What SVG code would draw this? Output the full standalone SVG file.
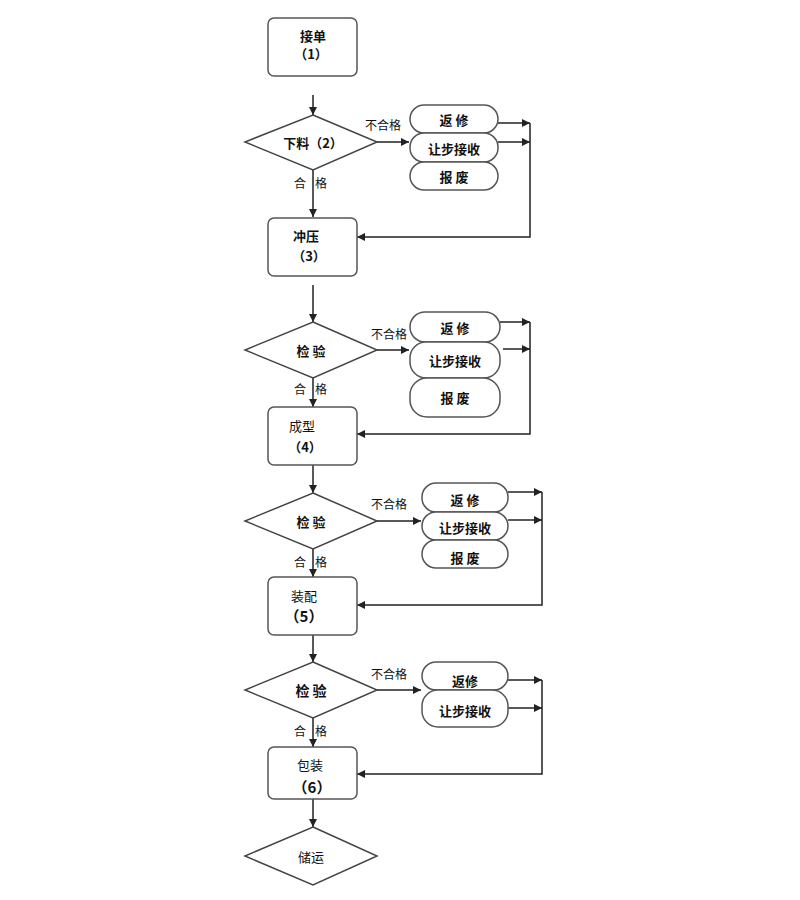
<svg xmlns="http://www.w3.org/2000/svg" width="800" height="900" viewBox="0 0 800 900">
<defs>
<marker id="ah" viewBox="0 0 10 10" refX="10" refY="5" markerWidth="8" markerHeight="8" markerUnits="userSpaceOnUse" orient="auto"><path d="M0,0 L10,5 L0,10 z" fill="#222"/></marker>
<style>
.box{fill:#fff;stroke:#555;stroke-width:1.5}
.pill{fill:#fff;stroke:#555;stroke-width:1.5}
.dia{fill:#fff;stroke:#444;stroke-width:1.5}
.ln{fill:none;stroke:#222;stroke-width:1.5}
.arr{fill:none;stroke:#222;stroke-width:1.5;marker-end:url(#ah)}
text{font-family:"Noto Sans CJK SC","Noto Sans CJK JP",sans-serif;font-size:13px;fill:#111;text-anchor:middle;dominant-baseline:central}
.b{font-weight:bold}
.lbl{font-size:12px}
</style>
</defs>
<rect width="800" height="900" fill="#fff"/>
<g id="connectors">
<line class="arr" x1="313" y1="95" x2="313" y2="115"/>
<line class="arr" x1="313" y1="170" x2="313" y2="217"/>
<line class="arr" x1="377" y1="142" x2="409" y2="142"/>
<line class="arr" x1="498" y1="123" x2="530" y2="123"/>
<line class="arr" x1="498" y1="142" x2="530" y2="142"/>
<polyline class="arr" points="530,123 530,237 357,237"/>
<line class="arr" x1="313" y1="285" x2="313" y2="322"/>
<line class="arr" x1="313" y1="378" x2="313" y2="407"/>
<line class="arr" x1="377" y1="350" x2="409" y2="350"/>
<line class="arr" x1="500" y1="322" x2="530" y2="322"/>
<line class="arr" x1="503" y1="349" x2="530" y2="349"/>
<polyline class="arr" points="530,322 530,434 357,434"/>
<line class="arr" x1="313" y1="465" x2="313" y2="493"/>
<line class="arr" x1="313" y1="549" x2="313" y2="577"/>
<line class="arr" x1="377" y1="521" x2="421" y2="521"/>
<line class="arr" x1="508" y1="492" x2="542" y2="492"/>
<line class="arr" x1="508" y1="520" x2="542" y2="520"/>
<polyline class="arr" points="542,492 542,605 357,605"/>
<line class="arr" x1="313" y1="635" x2="313" y2="662"/>
<line class="arr" x1="313" y1="718" x2="313" y2="747"/>
<line class="arr" x1="377" y1="690" x2="421" y2="690"/>
<line class="arr" x1="508" y1="680" x2="542" y2="680"/>
<line class="arr" x1="508" y1="708" x2="542" y2="708"/>
<polyline class="arr" points="542,680 542,774 357,774"/>
<line class="arr" x1="313" y1="799" x2="313" y2="827"/>
</g>
<g id="n1"><rect class="box" x="268" y="18" width="89" height="58" rx="6"/><text class="b" x="313" y="35">接单</text><text class="b" x="311" y="53">（1）</text></g>
<g id="d1"><polygon class="dia" points="313,115 377,142 313,170 245,142"/><text class="b" x="313" y="142">下料（2）</text></g>
<g id="n3"><rect class="box" x="268" y="218" width="89" height="58" rx="6"/><text class="b" x="306" y="235">冲压</text><text class="b" x="309" y="255">（3）</text></g>
<g id="d2"><polygon class="dia" points="313,322 377,350 313,378 245,350"/><text class="b" x="311" y="350">检 验</text></g>
<g id="n4"><rect class="box" x="268" y="407" width="89" height="58" rx="6"/><text x="302" y="425">成型</text><text class="b" x="305" y="446">（4）</text></g>
<g id="d3"><polygon class="dia" points="313,493 377,521 313,549 245,521"/><text class="b" x="311" y="521">检 验</text></g>
<g id="n5"><rect class="box" x="268" y="577" width="89" height="58" rx="6"/><text x="304" y="595">装配</text><text class="b" x="304" y="615" style="font-size:15px">（5）</text></g>
<g id="d4"><polygon class="dia" points="313,662 377,690 313,718 245,690"/><text class="b" x="311" y="690" style="font-size:14px">检 验</text></g>
<g id="n6"><rect class="box" x="268" y="747" width="89" height="52" rx="6"/><text x="310" y="764">包装</text><text class="b" x="312" y="786" style="font-size:15px">（6）</text></g>
<g id="d5"><polygon class="dia" points="313,827 377,856 313,885 245,856"/><text x="311" y="856">储运</text></g>
<g id="labels">
<text class="lbl" x="383" y="124">不合格</text><text class="lbl" x="300" y="182">合</text><text class="lbl" x="321" y="182">格</text>
<text class="lbl" x="389" y="333">不合格</text><text class="lbl" x="300" y="388">合</text><text class="lbl" x="321" y="388">格</text>
<text class="lbl" x="389" y="503">不合格</text><text class="lbl" x="300" y="561">合</text><text class="lbl" x="321" y="561">格</text>
<text class="lbl" x="389" y="673">不合格</text><text class="lbl" x="300" y="730">合</text><text class="lbl" x="321" y="730">格</text>
</g>
<g id="p1"><rect class="pill" x="410" y="105" width="88" height="28" rx="14"/><text class="b" x="454" y="119">返 修</text></g>
<g id="p2"><rect class="pill" x="410" y="133" width="88" height="29" rx="14"/><text class="b" x="454" y="148">让步接收</text></g>
<g id="p3"><rect class="pill" x="410" y="162" width="88" height="28" rx="14"/><text class="b" x="454" y="176">报 废</text></g>
<g id="p4"><rect class="pill" x="410" y="312" width="90" height="30" rx="15"/><text class="b" x="455" y="327">返 修</text></g>
<g id="p5"><rect class="pill" x="410" y="342" width="90" height="36" rx="16"/><text class="b" x="455" y="360">让步接收</text></g>
<g id="p6"><rect class="pill" x="410" y="378" width="90" height="39" rx="17"/><text class="b" x="455" y="397">报 废</text></g>
<g id="p7"><rect class="pill" x="422" y="483" width="86" height="29" rx="14"/><text class="b" x="465" y="499">返 修</text></g>
<g id="p8"><rect class="pill" x="422" y="512" width="86" height="28" rx="14"/><text class="b" x="465" y="527">让步接收</text></g>
<g id="p9"><rect class="pill" x="422" y="540" width="86" height="28" rx="14"/><text class="b" x="465" y="557">报 废</text></g>
<g id="p10"><rect class="pill" x="422" y="662" width="86" height="28" rx="14"/><text class="b" x="465" y="680">返修</text></g>
<g id="p11"><rect class="pill" x="422" y="690" width="86" height="37" rx="16"/><text class="b" x="465" y="710">让步接收</text></g>
</svg>
